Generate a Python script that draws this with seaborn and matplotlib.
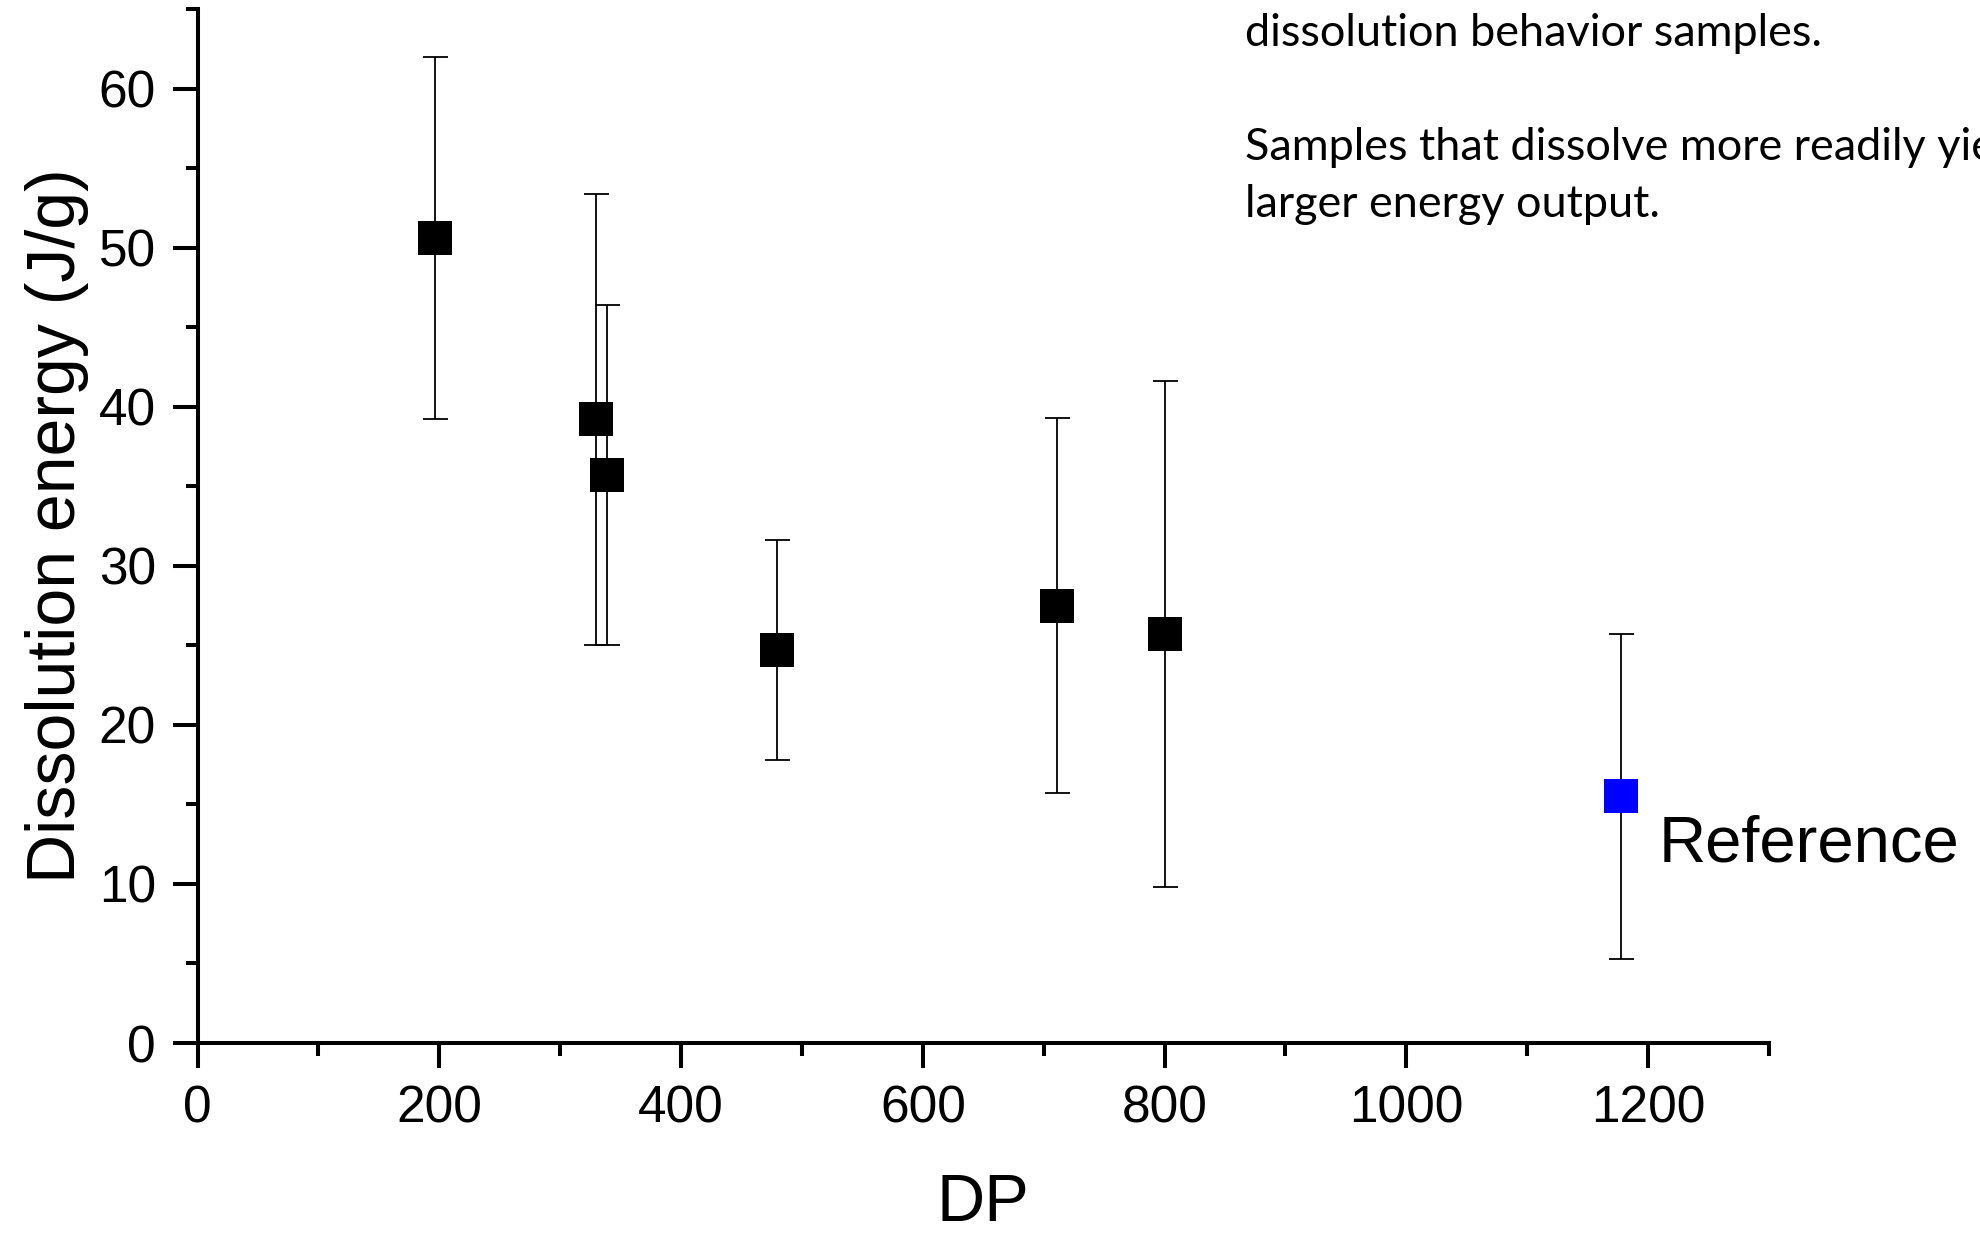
import numpy as np
import pandas as pd
import matplotlib
matplotlib.use('Agg')
import matplotlib.pyplot as plt
from matplotlib.ticker import MultipleLocator
import seaborn as sns

# Data
dp = [196, 330, 339, 479, 711, 800]
energy = [50.6, 39.2, 35.7, 24.7, 27.5, 25.7]
energy_err = [11.4, 14.2, 10.7, 6.9, 11.8, 15.9]

ref_dp = [1178]
ref_energy = [15.5]
ref_err = [10.2]

note_lines = ['dissolution behavior samples.',
              'Samples that dissolve more readily yield a',
              'larger energy output.']

df = pd.DataFrame({'DP': dp, 'Energy': energy, 'Err': energy_err})
df_ref = pd.DataFrame({'DP': ref_dp, 'Energy': ref_energy, 'Err': ref_err})

sns.set_style('ticks', {'axes.edgecolor': 'black', 'text.color': 'black',
                        'axes.labelcolor': 'black', 'xtick.color': 'black',
                        'ytick.color': 'black'})
plt.rcParams['font.family'] = ['Liberation Sans', 'DejaVu Sans']

fig = plt.figure(figsize=(19.8, 12.38), dpi=100)
ax = fig.add_axes([0.0998, 0.1575, 0.7936, 0.8352])

# Error bars
for d in (df, df_ref):
    ax.errorbar(d['DP'], d['Energy'], yerr=d['Err'], fmt='none', ecolor='black',
                elinewidth=1.3, capsize=9, capthick=1.3, zorder=2)

# Markers
sns.scatterplot(data=df, x='DP', y='Energy', marker='s', s=24 ** 2, color='black',
                linewidth=0, ax=ax, zorder=3)
sns.scatterplot(data=df_ref, x='DP', y='Energy', marker='s', s=24 ** 2, color='#0000FF',
                linewidth=0, ax=ax, zorder=3)

ax.text(1209, 11.4, 'Reference', fontsize=47, va='baseline', ha='left', color='black')

ax.set_xlim(0, 1300)
ax.set_ylim(0, 65)
ax.xaxis.set_major_locator(MultipleLocator(200))
ax.xaxis.set_minor_locator(MultipleLocator(100))
ax.yaxis.set_major_locator(MultipleLocator(10))
ax.yaxis.set_minor_locator(MultipleLocator(5))

for side in ('top', 'right'):
    ax.spines[side].set_visible(False)
for side in ('left', 'bottom'):
    ax.spines[side].set_linewidth(2.9)
    ax.spines[side].set_color('black')

ax.tick_params(which='major', length=18, width=2.9, labelsize=37, pad=12,
               direction='out', colors='black')
ax.tick_params(which='minor', length=9, width=2.9, direction='out', colors='black')

ax.set_xlabel('DP', fontsize=48, labelpad=28, color='black')
ax.set_ylabel('Dissolution energy (J/g)', fontsize=49, labelpad=7, color='black')

# Slide text partially visible at the top right
note_font = ['Lato', 'DejaVu Sans']
fig.text(0.6288, 1 - 46 / 1238, note_lines[0], fontsize=32.4, family=note_font,
         va='baseline', color='black')
fig.text(0.6288, 1 - 160 / 1238, note_lines[1], fontsize=32.4, family=note_font,
         va='baseline', color='black')
fig.text(0.6288, 1 - 217 / 1238, note_lines[2], fontsize=32.4, family=note_font,
         va='baseline', color='black')

fig.savefig('out.png', dpi=100)
